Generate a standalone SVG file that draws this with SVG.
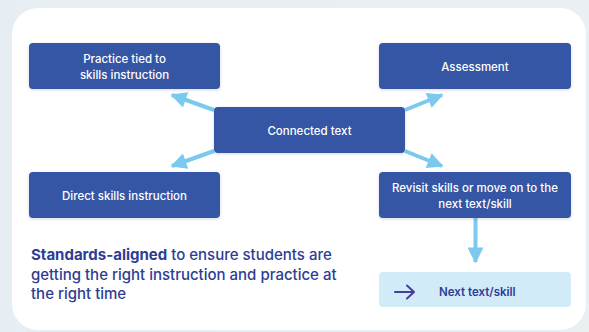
<svg xmlns="http://www.w3.org/2000/svg" width="589" height="332" viewBox="0 0 589 332">
<defs>
<style>
.node{fill:#3555a5;}
.nt{font-family:Inter,"Liberation Sans",sans-serif;font-size:11.5px;font-weight:500;fill:#ffffff;text-anchor:middle;}
.conn{stroke:#7cc9ef;stroke-width:4;fill:none;}
.para{font-family:Inter,"Liberation Sans",sans-serif;font-size:15px;font-weight:500;fill:#2d3d93;}
</style>
<marker id="ah" viewBox="0 0 10 10" refX="9" refY="5" markerWidth="4.5" markerHeight="4" markerUnits="strokeWidth" orient="auto">
<path d="M0,0 L10,5 L0,10 Z" fill="#7cc9ef"/>
</marker>
<filter id="sh" x="-10%" y="-10%" width="120%" height="130%">
<feDropShadow dx="0" dy="1" stdDeviation="1.5" flood-color="#1a2a60" flood-opacity="0.18"/>
</filter>
<linearGradient id="bg" x1="0" y1="0" x2="1" y2="0">
<stop offset="0" stop-color="#e6eef3"/>
<stop offset="1" stop-color="#eaeff2"/>
</linearGradient>
</defs>
<rect x="0" y="0" width="589" height="332" fill="url(#bg)"/>
<rect x="12" y="8" width="574" height="322" rx="26" ry="26" fill="#ffffff"/>
<g id="connectors">
<line class="conn" x1="214" y1="110" x2="172" y2="95" marker-end="url(#ah)"/>
<line class="conn" x1="214" y1="151" x2="172" y2="166" marker-end="url(#ah)"/>
<line class="conn" x1="405" y1="110" x2="442" y2="95" marker-end="url(#ah)"/>
<line class="conn" x1="405" y1="151" x2="442" y2="166" marker-end="url(#ah)"/>
<line class="conn" x1="475.5" y1="218" x2="475.5" y2="262" marker-end="url(#ah)"/>
</g>
<g id="practice">
<rect class="node" x="29" y="43" width="191" height="46" rx="4" filter="url(#sh)"/>
<text class="nt" x="124.5" y="63">Practice tied to</text>
<text class="nt" x="124.5" y="79">skills instruction</text>
</g>
<g id="assessment">
<rect class="node" x="379" y="43" width="192" height="46" rx="4" filter="url(#sh)"/>
<text class="nt" x="475" y="71">Assessment</text>
</g>
<g id="connected">
<rect class="node" x="214" y="107" width="191" height="46" rx="4" filter="url(#sh)"/>
<text class="nt" x="309.5" y="135">Connected text</text>
</g>
<g id="direct">
<rect class="node" x="29" y="172" width="191" height="46" rx="4" filter="url(#sh)"/>
<text class="nt" x="124.5" y="200">Direct skills instruction</text>
</g>
<g id="revisit">
<rect class="node" x="379" y="172" width="192" height="46" rx="4" filter="url(#sh)"/>
<text class="nt" x="475" y="192">Revisit skills or move on to the</text>
<text class="nt" x="475" y="208">next text/skill</text>
</g>
<g id="next">
<rect x="379" y="272" width="192" height="35" rx="4" fill="#d2ebf8"/>
<path d="M395,292 H414 M407,285.5 L414,292 L407,298.5" stroke="#4a3d98" stroke-width="2" fill="none" stroke-linecap="round" stroke-linejoin="round"/>
<text x="439" y="296" font-family="Inter,'Liberation Sans',sans-serif" font-size="11.5" font-weight="600" fill="#2d3d93">Next text/skill</text>
</g>
<g id="caption">
<text class="para" x="31" y="260"><tspan font-weight="700">Standards-aligned</tspan> to ensure students are</text>
<text class="para" x="31" y="280">getting the right instruction and practice at</text>
<text class="para" x="31" y="299">the right time</text>
</g>
</svg>
